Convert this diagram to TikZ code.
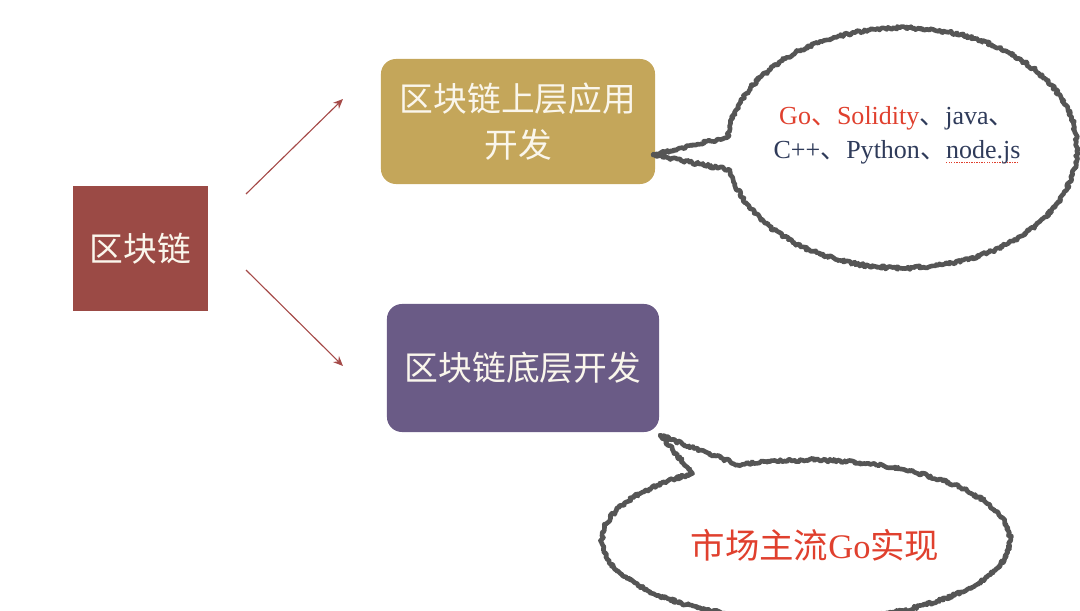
\documentclass[tikz,border=0pt]{standalone}
\usepackage{fontspec}
\setmainfont{Liberation Serif}
\newfontfamily\cjk{Noto Sans CJK SC}
\usetikzlibrary{arrows.meta,positioning,decorations.pathmorphing}
\usepackage{xcolor}

\definecolor{chainred}{HTML}{9B4A45}
\definecolor{appgold}{HTML}{C4A65A}
\definecolor{basepurple}{HTML}{6A5B86}
\definecolor{boxtext}{HTML}{FAF6EC}
\definecolor{arrowred}{HTML}{A54A48}
\definecolor{bubblegray}{HTML}{555555}
\definecolor{langred}{HTML}{E0402E}
\definecolor{langnavy}{HTML}{2F3B5A}

% 拼写检查的红色虚线
\newsavebox\spellbox
\newcommand\spellmark[1]{\sbox\spellbox{#1}\rlap{\leaders\hbox{{\color{langred}\rule[-3.5pt]{1pt}{1pt}}\kern0.8pt}\hskip\wd\spellbox}\usebox\spellbox}

\begin{document}
\begin{tikzpicture}[x=0.025cm, y=-0.025cm,
    box/.style={rectangle, text=boxtext, align=center, inner sep=0pt, font=\cjk\fontsize{24}{33}\selectfont},
    arrow/.style={-{Stealth[length=7pt,width=6pt]}, line width=0.8pt, draw=arrowred},
    bubble/.style={draw=bubblegray, line width=3.3pt, fill=white, line join=round,
        decorate, decoration={random steps, segment length=1.2pt, amplitude=1.1pt}}
]
    \useasboundingbox (0,0) rectangle (1080,611);
    \clip (0,0) rectangle (1080,611);
    \pgfmathsetseed{7}

    % 区块链
    \node[box, fill=chainred, minimum width=3.375cm, minimum height=3.125cm] (chain) at (140.5,248.5) {区块链};

    % 上层应用开发
    \node[box, fill=appgold, rounded corners=0.375cm, minimum width=6.85cm, minimum height=3.125cm] (app) at (518,121.5) {区块链上层应用\\开发};

    % 底层开发
    \node[box, fill=basepurple, rounded corners=0.375cm, minimum width=6.8cm, minimum height=3.2cm] (base) at (523,368) {区块链底层开发};

    % 箭头
    \coordinate (app-tail) at (246,194);
    \coordinate (app-head) at (343,99);
    \coordinate (base-tail) at (246,270);
    \coordinate (base-head) at (343,366);
    \draw[arrow] (app-tail) -- (app-head);
    \draw[arrow] (base-tail) -- (base-head);

    % 气泡：语言
    \coordinate (app-tip) at (653,155);
    \coordinate (langs-center) at (902,148);
    \path[bubble] (app-tip) -- ([shift={(169.4:175 and 120)}]langs-center)
        arc[start angle=169.4, end angle=-174.7, x radius=175, y radius=120] -- cycle;
    \node[align=center, text=langnavy, font=\fontsize{18.5}{24}\selectfont] (langs) at (897,135)
        {\textcolor{langred}{Go{\cjk 、}Solidity}{\cjk 、}java{\cjk 、}\\
         C++{\cjk 、}Python{\cjk 、}\spellmark{node.js}};

    % 气泡：Go实现
    \coordinate (base-tip) at (660,435);
    \coordinate (go-center) at (806,540);
    \path[bubble] (base-tip) -- ([shift={(250.5:204 and 80)}]go-center)
        arc[start angle=250.5, end angle=596.2, x radius=204, y radius=80] -- cycle;
    \node[text=langred, font=\cjk\fontsize{24.5}{30}\selectfont] (go) at (815,545)
        {市场主流{\rmfamily Go}实现};
\end{tikzpicture}
\end{document}
